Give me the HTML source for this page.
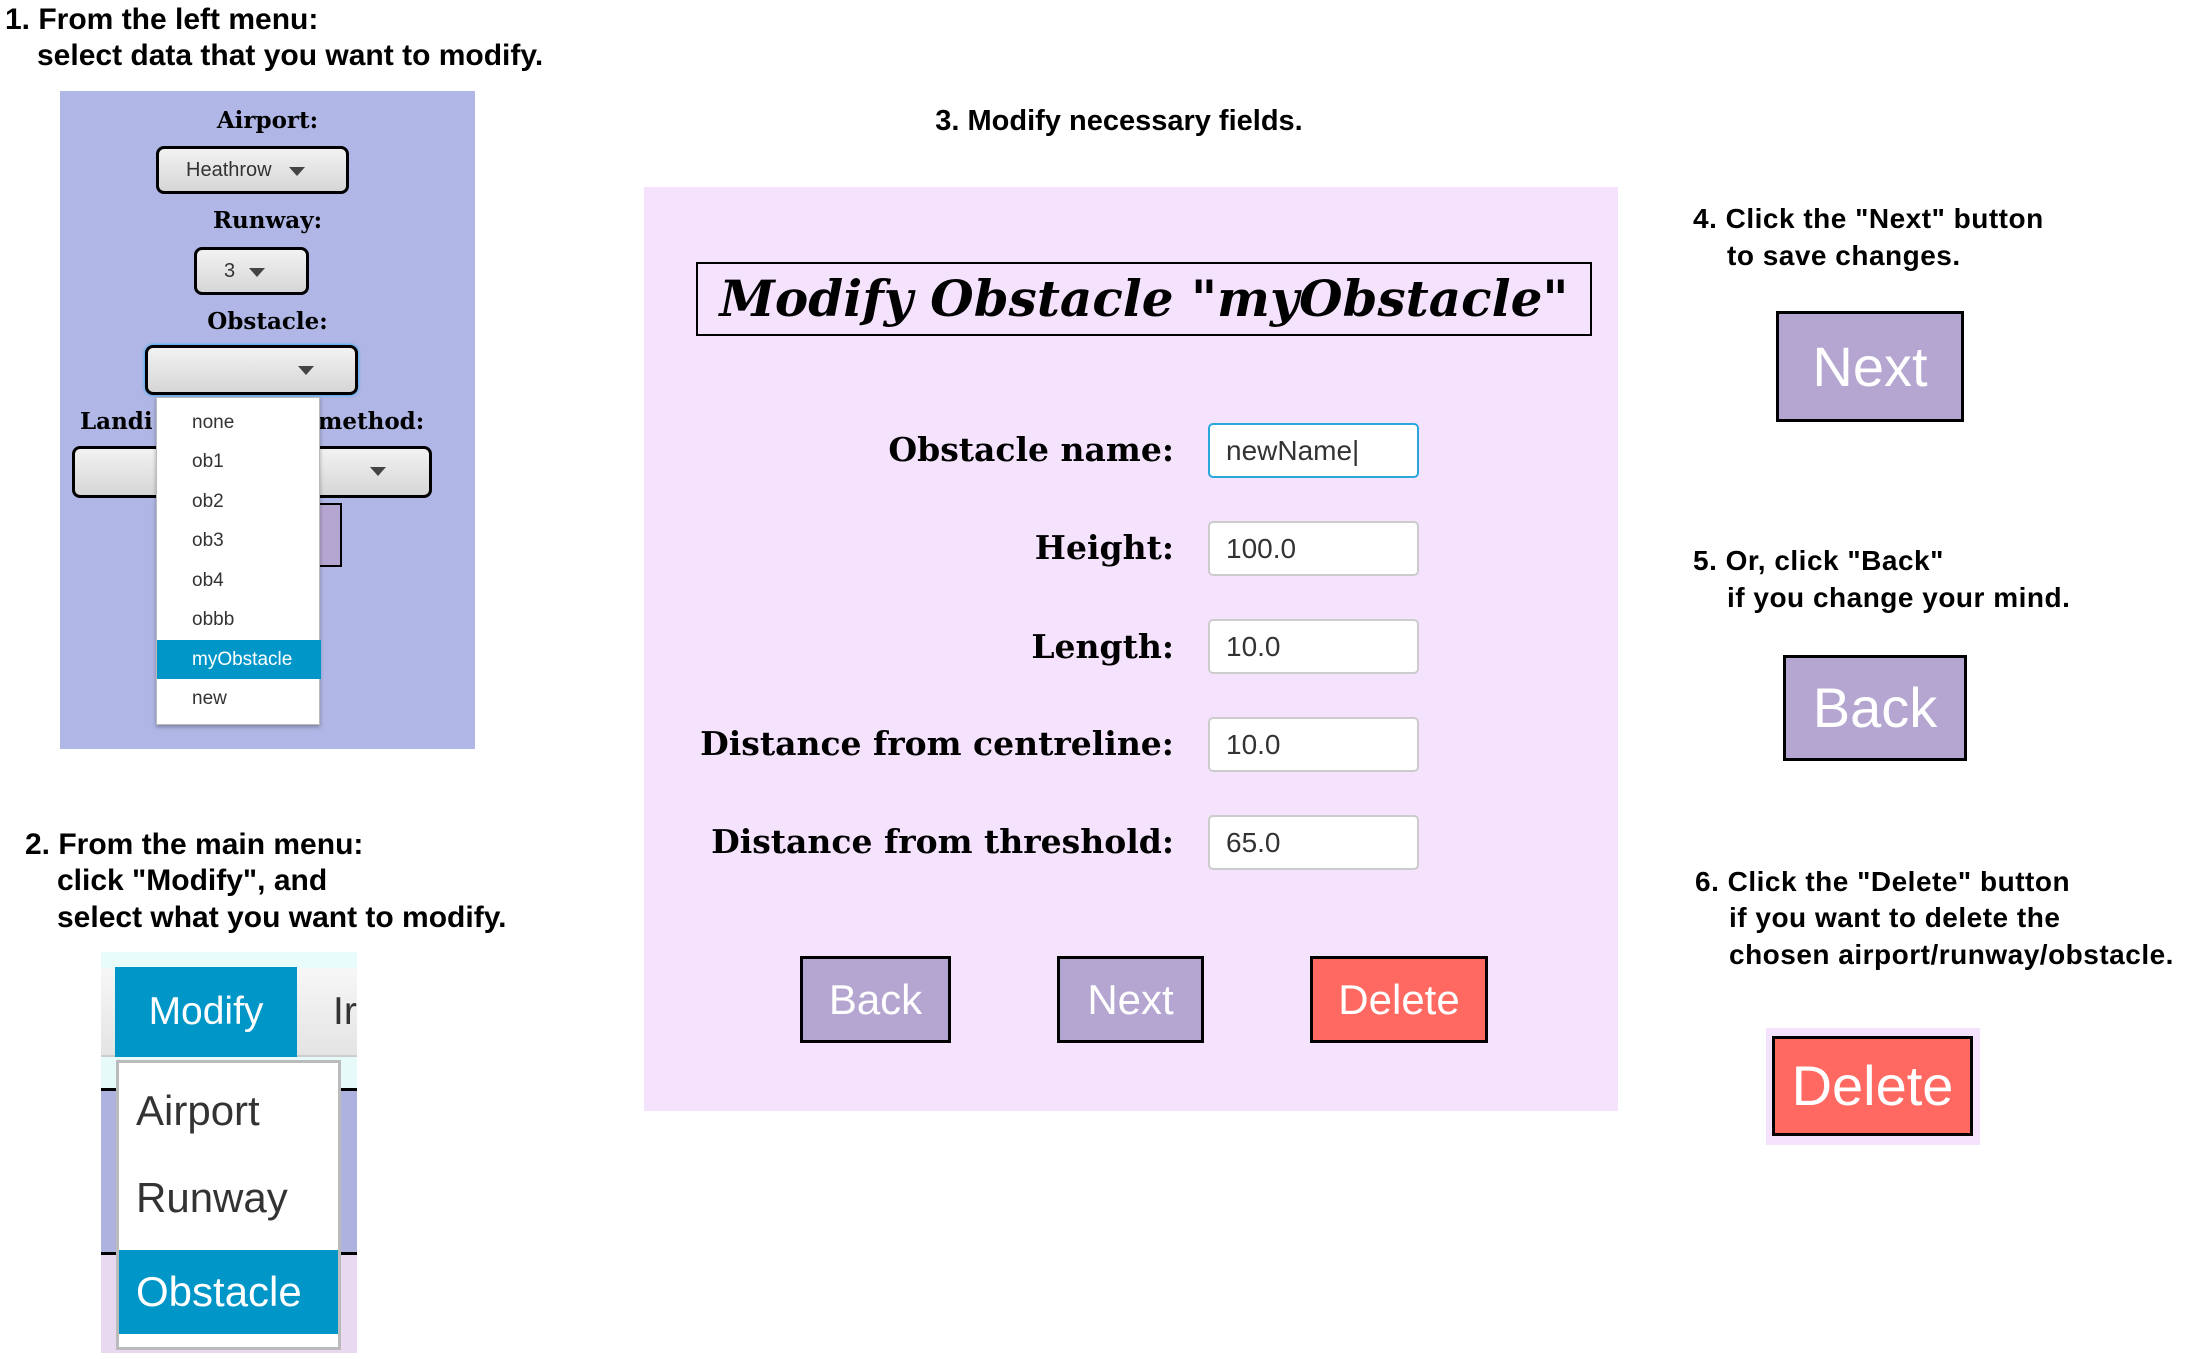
<!DOCTYPE html>
<html><head><meta charset="utf-8"><style>
*{margin:0;padding:0;box-sizing:border-box}
body{width:2193px;height:1359px;background:#fff;position:relative;overflow:hidden;font-family:"Liberation Sans",sans-serif}
.a{position:absolute;white-space:nowrap}
.h{font-weight:bold;font-size:30px;color:#000;line-height:36px}
.s{font-family:"DejaVu Serif","Liberation Serif",serif;font-weight:bold;color:#000}
.sel{position:absolute;border:3px solid #000;border-radius:8px;background:linear-gradient(#f2f2f2,#d6d6d6)}
.tri{position:absolute;width:0;height:0;border-left:8px solid transparent;border-right:8px solid transparent;border-top:9px solid #444}
.it{position:absolute;left:0;width:164px;height:39px;line-height:39px;padding-left:35px;font-size:19px;color:#333}
.inp{position:absolute;left:1208px;width:211px;height:55px;background:#fff;border:2px solid #ccc;border-radius:5px;font-size:28px;line-height:51px;padding-left:16px;color:#333}
.lab{position:absolute;right:1019px;font-size:33px;line-height:50px}
.btn{position:absolute;border:3px solid #000;color:#fff;text-align:center;background:#b4a6d0}
.wide{letter-spacing:0.5px;font-size:28px}
</style></head><body>

<div class="a h" style="left:5px;top:2px">1. From the left menu:</div>
<div class="a h" style="left:37px;top:38px">select data that you want to modify.</div>

<div class="a" style="left:60px;top:91px;width:415px;height:658px;background:#b0b6e5"></div>
<div class="a s" style="left:60px;width:415px;text-align:center;top:105px;font-size:23px;line-height:32px">Airport:</div>
<div class="sel" style="left:156px;top:146px;width:193px;height:48px"></div>
<div class="a" style="left:186px;top:157px;font-size:20px;color:#333;line-height:26px">Heathrow</div>
<div class="tri" style="left:289px;top:167px"></div>
<div class="a s" style="left:60px;width:415px;text-align:center;top:205px;font-size:23px;line-height:32px">Runway:</div>
<div class="sel" style="left:194px;top:247px;width:115px;height:48px"></div>
<div class="a" style="left:224px;top:258px;font-size:20px;color:#333;line-height:26px">3</div>
<div class="tri" style="left:249px;top:268px"></div>
<div class="a s" style="left:60px;width:415px;text-align:center;top:306px;font-size:23px;line-height:32px">Obstacle:</div>
<div class="sel" style="left:145px;top:345px;width:213px;height:50px;box-shadow:0 0 3px #0af"></div>
<div class="tri" style="left:298px;top:366px"></div>
<div class="a s" style="left:80px;top:406px;font-size:23px;line-height:32px">Landi</div>
<div class="a s" style="left:318px;top:406px;font-size:23px;line-height:32px">method:</div>
<div class="sel" style="left:72px;top:446px;width:360px;height:52px"></div>
<div class="tri" style="left:370px;top:467px"></div>
<div class="a" style="left:318px;top:503px;width:24px;height:64px;background:#b4a6d0;border:2px solid #000;border-left:none"></div>
<div class="a" style="left:156px;top:397px;width:164px;height:328px;background:#fff;box-shadow:0 2px 4px rgba(0,0,0,.3);border:1px solid #bbb">
<div class="it" style="top:5px">none</div>
<div class="it" style="top:44px">ob1</div>
<div class="it" style="top:84px">ob2</div>
<div class="it" style="top:123px">ob3</div>
<div class="it" style="top:163px">ob4</div>
<div class="it" style="top:202px">obbb</div>
<div class="it" style="top:242px;background:#0096c8;color:#fff">myObstacle</div>
<div class="it" style="top:281px">new</div>
</div>

<div class="a h" style="left:25px;top:827px">2. From the main menu:</div>
<div class="a h" style="left:57px;top:863px">click "Modify", and</div>
<div class="a h" style="left:57px;top:900px">select what you want to modify.</div>

<div class="a" style="left:101px;top:952px;width:256px;height:401px;background:#aeb2df;overflow:hidden">
<div class="a" style="left:0;top:0;width:256px;height:16px;background:#e8fcfc"></div>
<div class="a" style="left:0;top:16px;width:256px;height:89px;background:linear-gradient(#f7f7f7,#e4e4e4);border-bottom:2px solid #ccc"></div>
<div class="a" style="left:0;top:105px;width:256px;height:34px;background:#e6fafa;border-bottom:3px solid #000"></div>
<div class="a" style="left:14px;top:15px;width:182px;height:90px;background:#0096c8;color:#fff;font-size:39px;line-height:90px;text-align:center">Modify</div>
<div class="a" style="left:232px;top:15px;font-size:39px;line-height:90px;color:#333">Ir</div>
<div class="a" style="left:0;top:300px;width:256px;height:101px;background:#e8d8f0;border-top:3px solid #000"></div>
<div class="a" style="left:15px;top:108px;width:225px;height:290px;background:#fff;border:3px solid #bbb">
<div class="a" style="left:17px;top:20px;font-size:42px;line-height:56px;color:#333">Airport</div>
<div class="a" style="left:17px;top:107px;font-size:42px;line-height:56px;color:#333">Runway</div>
<div class="a" style="left:0;top:187px;width:219px;height:84px;background:#0096c8;color:#fff;font-size:42px;line-height:84px;padding-left:17px">Obstacle</div>
</div>
</div>

<div class="a h" style="left:0;width:2238px;text-align:center;top:103px;font-size:29px">3. Modify necessary fields.</div>
<div class="a" style="left:644px;top:187px;width:974px;height:924px;background:#f5e3fd"></div>
<div class="a s" style="left:696px;top:262px;width:896px;height:74px;border:2px solid #000;font-style:italic;font-size:50px;line-height:70px;text-align:center">Modify Obstacle "myObstacle"</div>
<div class="a s lab" style="top:425px">Obstacle name:</div>
<div class="inp" style="top:423px;border-color:#2aa8dc">newName|</div>
<div class="a s lab" style="top:523px">Height:</div>
<div class="inp" style="top:521px">100.0</div>
<div class="a s lab" style="top:622px">Length:</div>
<div class="inp" style="top:619px">10.0</div>
<div class="a s lab" style="top:719px">Distance from centreline:</div>
<div class="inp" style="top:717px">10.0</div>
<div class="a s lab" style="top:817px">Distance from threshold:</div>
<div class="inp" style="top:815px">65.0</div>
<div class="btn" style="left:800px;top:956px;width:151px;height:87px;font-size:42px;line-height:81px">Back</div>
<div class="btn" style="left:1057px;top:956px;width:147px;height:87px;font-size:42px;line-height:81px">Next</div>
<div class="btn" style="left:1310px;top:956px;width:178px;height:87px;font-size:42px;line-height:81px;background:#ff6961">Delete</div>

<div class="a h wide" style="left:1693px;top:201px">4. Click the "Next" button</div>
<div class="a h wide" style="left:1727px;top:238px">to save changes.</div>
<div class="btn" style="left:1776px;top:311px;width:188px;height:111px;font-size:56px;line-height:105px">Next</div>
<div class="a h wide" style="left:1693px;top:543px">5. Or, click "Back"</div>
<div class="a h wide" style="left:1727px;top:580px">if you change your mind.</div>
<div class="btn" style="left:1783px;top:655px;width:184px;height:106px;font-size:56px;line-height:100px">Back</div>
<div class="a h wide" style="left:1695px;top:864px">6. Click the "Delete" button</div>
<div class="a h wide" style="left:1729px;top:900px">if you want to delete the</div>
<div class="a h wide" style="left:1729px;top:937px">chosen airport/runway/obstacle.</div>
<div class="a" style="left:1766px;top:1028px;width:214px;height:117px;background:#f5e3fd"></div>
<div class="btn" style="left:1772px;top:1036px;width:201px;height:100px;font-size:56px;line-height:94px;background:#ff6961">Delete</div>
</body></html>
